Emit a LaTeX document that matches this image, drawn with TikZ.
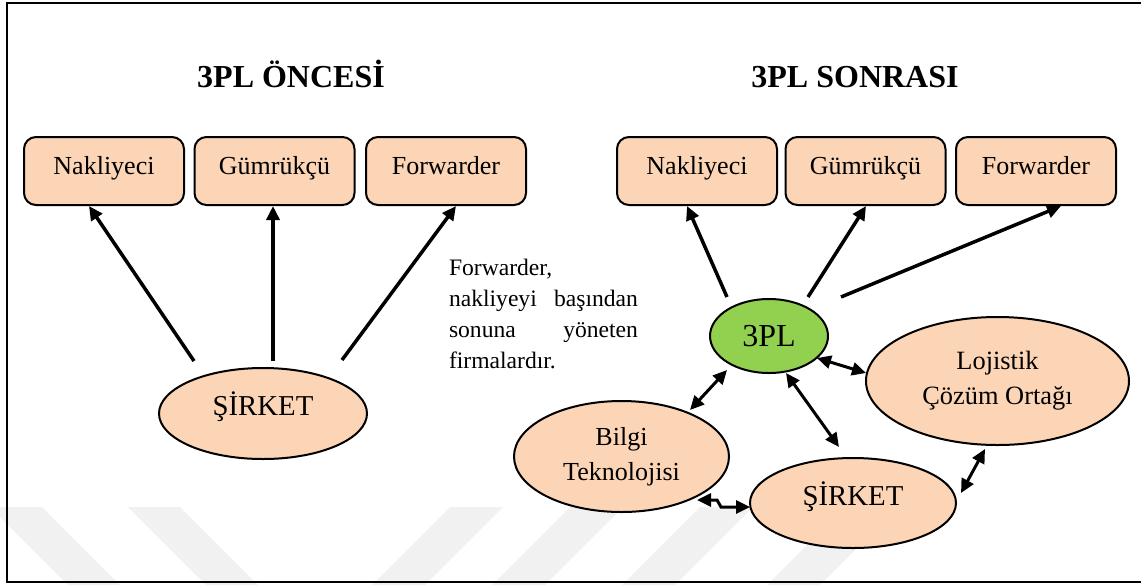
\documentclass[tikz,border=0pt]{standalone}
\usepackage{fontspec}
\setmainfont{Liberation Serif}
\usetikzlibrary{shapes.geometric,arrows.meta,calc}
\definecolor{peach}{HTML}{FBD5B5}
\definecolor{leafgreen}{HTML}{92D050}
\definecolor{markgrey}{HTML}{F1F1F1}

\begin{document}
\begin{tikzpicture}[x=0.5pt,y=-0.5pt,
  every node/.style={inner sep=0pt, outer sep=0pt},
  party/.style={draw, line width=1pt, fill=peach, rectangle, rounded corners=6pt,
    minimum width=80pt, minimum height=34pt,
    font=\fontsize{13}{15.6}\selectfont, text height=0.7em, text depth=0.39em},
  oval/.style={draw, line width=1pt, fill=peach, ellipse},
  heading/.style={font=\bfseries\fontsize{16}{19}\selectfont, anchor=base},
  link/.style={line width=1.75pt, -{Triangle[length=7pt,width=6.5pt]}},
  duplex/.style={line width=1.5pt,
    {Triangle[length=7pt,width=6.5pt]}-{Triangle[length=7pt,width=6.5pt]}},
]
\useasboundingbox (0,0) rectangle (1141,585);

% faint diagonal bands along the bottom
\fill[markgrey] (-10,507) -- (42,507) -- (120,585) -- (68,585) -- cycle;
\fill[markgrey] (128,507) -- (180,507) -- (258,585) -- (206,585) -- cycle;
\fill[markgrey] (450,507) -- (503,507) -- (425,585) -- (372,585) -- cycle;
\fill[markgrey] (570,507) -- (623,507) -- (545,585) -- (492,585) -- cycle;
\fill[markgrey] (700,507) -- (753,507) -- (675,585) -- (622,585) -- cycle;
\fill[markgrey] (845,507) -- (898,507) -- (820,585) -- (767,585) -- cycle;

% frame (open on the right)
\draw[line width=1.3pt] (1150,3) -- (7,3) -- (7,582) -- (1150,582);

% headings
\node[heading] (titleL) at (291,87) {3PL ÖNCESİ};
\node[heading] (titleR) at (855,87) {3PL SONRASI};

% before: service providers
\node[party] (nakL) at (104,171) {Nakliyeci};
\node[party] (gumL) at (274.5,171) {Gümrükçü};
\node[party] (fwdL) at (446,171) {Forwarder};

\node[oval, minimum width=104pt, minimum height=45.5pt,
  font=\fontsize{14.4}{17}\selectfont, text height=0.6em, text depth=0.38em]
  (sirL) at (263,413.5) {ŞİRKET};

% after: service providers
\node[party] (nakR) at (697,171) {Nakliyeci};
\node[party] (gumR) at (865.5,171) {Gümrükçü};
\node[party] (fwdR) at (1036,171) {Forwarder};

\node[draw, line width=1pt, fill=leafgreen, ellipse, minimum width=59pt, minimum height=37pt,
  font=\fontsize{16}{19}\selectfont] (tpl) at (769,336) {3PL};
\node[oval, minimum width=131.5pt, minimum height=64pt, align=center,
  font=\fontsize{13.2}{17.5}\selectfont] (loj) at (997.5,381) {Lojistik\\Çözüm Ortağı};
\node[oval, minimum width=107.5pt, minimum height=55.5pt, align=center,
  font=\fontsize{13}{17.5}\selectfont] (bil) at (621.5,456.5) {Bilgi\\Teknolojisi};
\node[oval, minimum width=103pt, minimum height=45pt,
  font=\fontsize{14.4}{17}\selectfont, text height=0.6em, text depth=0.38em]
  (sirR) at (853,503) {ŞİRKET};

% note in the middle
\node[anchor=north west, text width=94.5pt, align=justify,
  font=\fontsize{11.8}{15.5}\selectfont] (note) at (449,259)
  {Forwarder,\\ nakliyeyi\hfill başından\\ sonuna\hfill yöneten\\ firmalardır.};

% before: company reaches each provider itself
\draw[link] ($(sirL)+(-69,-52.5)$) -- ($(nakL)+(-15,35)$);
\draw[link] ($(sirL)+(10,-52.5)$) -- ($(gumL)+(-1.5,35)$);
\draw[link] ($(sirL)+(79,-53.5)$) -- ($(fwdL)+(10,35)$);

% after: 3PL reaches the providers
\draw[link] ($(tpl)+(-42,-39)$) -- ($(nakR)+(-10,35)$);
\draw[link] ($(tpl)+(39,-39)$) -- ($(gumR)+(0.5,35)$);
\draw[link] ($(tpl)+(72,-39)$) -- ($(fwdR)+(25,35)$);

% two-way links
\draw[duplex] ($(bil)+(68.5,-46.5)$) -- ($(tpl)+(-42,34)$);
\draw[duplex] ($(tpl)+(48,22)$) -- ($(loj)+(-131.5,-8)$);
\draw[duplex] ($(tpl)+(17,37)$) -- ($(sirR)+(-14,-56)$);
\draw[duplex] ($(sirR)+(108,-10)$) -- ($(loj)+(-12.5,68)$);
\draw[duplex] ($(bil)+(75.5,43.5)$) -- ++(20,0) -- ++(4,7) -- ($(sirR)+(-103,4)$);
\end{tikzpicture}
\end{document}
